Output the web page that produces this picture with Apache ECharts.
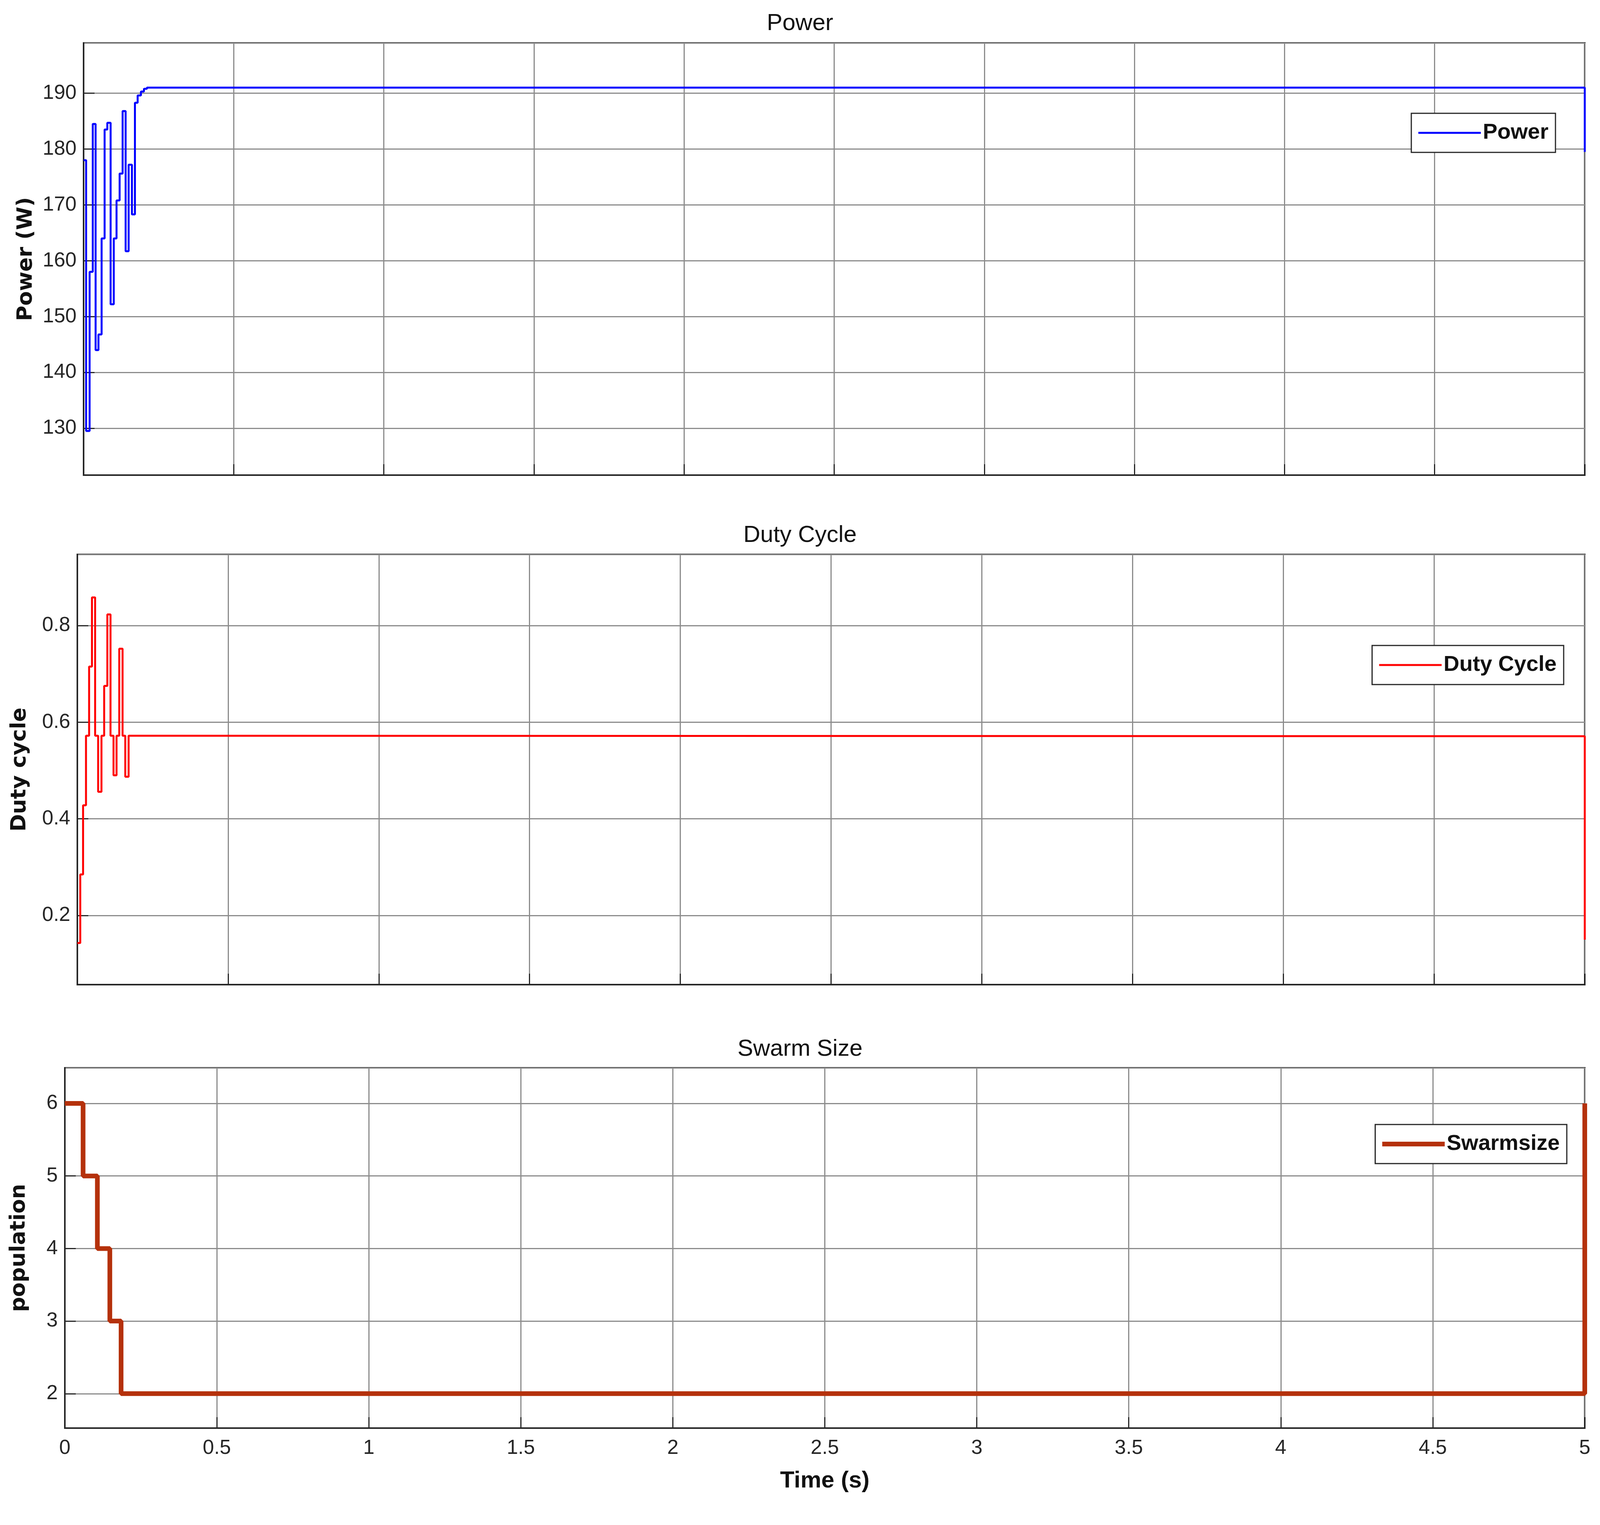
<!DOCTYPE html>
<html>
<head>
<meta charset="utf-8">
<script src="https://cdn.jsdelivr.net/npm/echarts@6/dist/echarts.min.js"></script>
<style>html,body{margin:0;padding:0;background:#fff;overflow:hidden}#chart{width:100vw;height:100vh}</style>
</head>
<body>
<div id="chart"></div>
<script>
// step data
var powerTimes = [0, 0.0085, 0.020, 0.0305, 0.040, 0.0495, 0.060, 0.070, 0.079, 0.090, 0.1005, 0.1097, 0.120, 0.130, 0.140, 0.150, 0.161, 0.171, 0.180, 0.191, 0.201, 0.211, 5];
var powerValues = [178, 129.5, 158, 184.5, 144, 146.8, 164, 183.5, 184.7, 152.2, 164, 170.8, 175.6, 186.8, 161.7, 177.2, 168.3, 188.3, 189.6, 190.3, 190.8, 191, 179.5];

var dutyTimes = [0, 0.0097, 0.019, 0.0287, 0.039, 0.0485, 0.059, 0.069, 0.080, 0.089, 0.0995, 0.110, 0.120, 0.130, 0.139, 0.150, 0.159, 0.170, 0.190, 5];
var dutyValues = [0.143, 0.285, 0.428, 0.572, 0.715, 0.858, 0.572, 0.456, 0.572, 0.675, 0.823, 0.572, 0.49, 0.572, 0.752, 0.572, 0.487, 0.572, 0.571, 0.15];

var swarmTimes = [0, 0.06, 0.107, 0.148, 0.185, 5];
var swarmValues = [6, 5, 4, 3, 2, 6];

var xTickLabels = ['0', '0.5', '1', '1.5', '2', '2.5', '3', '3.5', '4', '4.5', '5'];

function pairs(t, v) {
    return t.map(function (x, i) { return [x, v[i]]; });
}

var font = "'Liberation Sans Narrow', 'Liberation Sans', Arial, sans-serif";
var grids = [
    {left: 214, right: 39, top: 110, height: 1106},
    {left: 198, right: 39, top: 1419, height: 1101},
    {left: 166, right: 39, top: 2733, height: 922}
];

function xAxis(i, labels) {
    return {
        type: 'value', gridIndex: i, min: 0, max: 5, interval: 0.5,
        axisLine: {show: true, lineStyle: {color: '#262626', width: 4}},
        axisTick: {show: true, inside: true, length: 28, lineStyle: {color: '#262626', width: 3}},
        splitLine: {show: true, lineStyle: {color: '#8c8c8c', width: 3}},
        axisLabel: {show: labels, fontFamily: font, fontSize: 52, color: '#262626', margin: 26,
            formatter: function (v) { return xTickLabels[Math.round(v * 2)]; }},
        name: labels ? 'Time (s)' : '', nameLocation: 'middle', nameGap: 105,
        nameTextStyle: {fontFamily: font, fontSize: 60, fontWeight: 'bold', color: '#111'}
    };
}

function yAxis(i, min, max, split, name, gap, fmt) {
    return {
        type: 'value', gridIndex: i, min: min, max: max, splitNumber: split,
        axisLine: {show: true, lineStyle: {color: '#262626', width: 4}},
        axisTick: {show: true, inside: true, length: 28, lineStyle: {color: '#262626', width: 3}},
        splitLine: {show: true, lineStyle: {color: '#8c8c8c', width: 3}},
        axisLabel: {fontFamily: font, fontSize: 52, color: '#262626', margin: 18,
            showMinLabel: false, showMaxLabel: false, formatter: fmt},
        name: name, nameLocation: 'middle', nameGap: gap,
        nameTextStyle: {fontFamily: "'DejaVu Sans', sans-serif", fontSize: 54, fontWeight: 'bold', color: '#111'}
    };
}

var titleStyle = {fontFamily: font, fontSize: 60, fontWeight: 'normal', color: '#111'};
var legendBase = {
    orient: 'vertical', backgroundColor: '#fff', borderColor: '#262626', borderWidth: 3,
    padding: [22, 18, 22, 18], itemWidth: 160, itemHeight: 5, icon: 'rect',
    textStyle: {fontFamily: font, fontSize: 56, fontWeight: 'bold', color: '#111'}
};

var chart = echarts.init(document.getElementById('chart'));
chart.setOption({
    animation: false,
    backgroundColor: '#fff',
    title: [
        {text: 'Power', left: 'center', top: 25, textStyle: titleStyle},
        {text: 'Duty Cycle', left: 'center', top: 1335, textStyle: titleStyle},
        {text: 'Swarm Size', left: 'center', top: 2650, textStyle: titleStyle}
    ],
    grid: grids.map(function (g) {
        return Object.assign({show: true, borderColor: '#262626', borderWidth: 4}, g);
    }),
    legend: [
        Object.assign({}, legendBase, {data: ['Power'], right: 114, top: 290}),
        Object.assign({}, legendBase, {data: ['Duty Cycle'], right: 93, top: 1652}),
        Object.assign({}, legendBase, {data: ['Swarmsize'], right: 85, top: 2878, itemHeight: 12})
    ],
    xAxis: [xAxis(0, false), xAxis(1, false), xAxis(2, true)],
    yAxis: [
        yAxis(0, 121.6, 199, 8, 'Power (W)', 120, function (v) { return String(Math.round(v)); }),
        yAxis(1, 0.057, 0.947, 5, 'Duty cycle', 120, function (v) { return (Math.round(v * 10) / 10).toString(); }),
        yAxis(2, 1.525, 6.49, 5, 'population', 90, function (v) { return String(Math.round(v)); })
    ],
    series: [
        {name: 'Power', type: 'line', step: 'end', xAxisIndex: 0, yAxisIndex: 0, symbol: 'none',
            data: pairs(powerTimes, powerValues), lineStyle: {color: '#0000ff', width: 5}, itemStyle: {color: '#0000ff'}},
        {name: 'Duty Cycle', type: 'line', step: 'end', xAxisIndex: 1, yAxisIndex: 1, symbol: 'none',
            data: pairs(dutyTimes, dutyValues), lineStyle: {color: '#ff0000', width: 5}, itemStyle: {color: '#ff0000'}},
        {name: 'Swarmsize', type: 'line', step: 'end', xAxisIndex: 2, yAxisIndex: 2, symbol: 'none',
            data: pairs(swarmTimes, swarmValues), lineStyle: {color: '#b5310b', width: 12}, itemStyle: {color: '#b5310b'}}
    ]
});
</script>
</body>
</html>
